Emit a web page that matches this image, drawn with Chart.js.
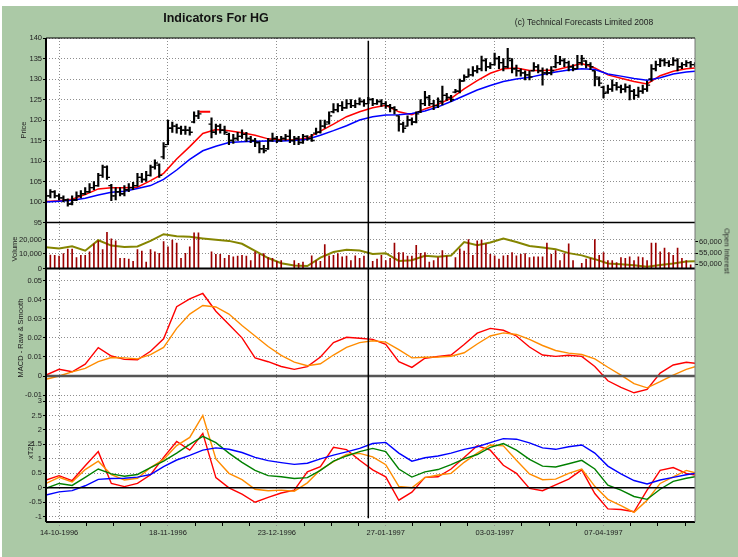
<!DOCTYPE html>
<html>
<head>
<meta charset="utf-8">
<script src="https://cdn.jsdelivr.net/npm/chart.js@4.4.0/dist/chart.umd.min.js"></script>
<style>
  body { margin: 0; background: #fff; }
  #wrap { position: relative; width: 738px; height: 557px; font-family: "Liberation Sans", Arial, sans-serif; }
  #bg { position: absolute; left: 2px; top: 6px; right: 0; bottom: 0; background: #abc9a6; }
  canvas { position: absolute; left: 0; top: 0; }
  .lbl { position: absolute; white-space: nowrap; transform: translate(-50%, -50%); color: #222; }
  .rot { transform: translate(-50%, -50%) rotate(-90deg); font-size: 7.5px; }
</style>
</head>
<body>
<div id="wrap">
  <div id="bg"></div>
  <canvas id="chart" width="738" height="557"></canvas>
  <div class="lbl" style="left:216px;top:18px;font-size:12.5px;font-weight:bold;color:#111">Indicators For HG</div>
  <div class="lbl" style="left:584px;top:22px;font-size:8.5px">(c) Technical Forecasts Limited 2008</div>
  <div class="lbl rot" style="left:23px;top:130px">Price</div>
  <div class="lbl rot" style="left:14px;top:249px">Volume</div>
  <div class="lbl rot" style="left:20px;top:338px">MACD - Raw &amp; Smooth</div>
  <div class="lbl rot" style="left:30px;top:450px">xT2N</div>
  <div class="lbl" style="left:727px;top:251px;font-size:7.5px;transform:translate(-50%,-50%) rotate(90deg)">Open Interest</div>
</div>
<script>
// trading days are numbered 0..149 (14-10-1996 is day 3)
var dateTickDays = [3, 28, 53, 78, 103, 128];
var dateTickLabels = ['14-10-1996', '18-11-1996', '23-12-1996', '27-01-1997', '03-03-1997', '07-04-1997'];
var cursorDay = 74;

var priceTicks = [95, 100, 105, 110, 115, 120, 125, 130, 135, 140];
var volumeTicks = [0, 10000, 20000];
var oiTicks = [50000, 55000, 60000];
var macdTicks = [-0.01, 0, 0.01, 0.02, 0.03, 0.04, 0.05];
var t2nTicks = [-1, -0.5, 0, 0.5, 1, 1.5, 2, 2.5, 3];

// daily bars
var priceOpen = [100.5,101.5,102.5,101.5,101,100.5,99.5,100.5,101.5,102,
  102.5,103.5,104,106.5,108.5,104,101.5,102.5,102,103,
  103.5,104,106,105.5,106.5,108.5,109,111,114,118,
  118.5,118,117.5,117.5,119.5,121,null,null,119,117,
  118.5,117.5,116.5,115,115.5,116,116.5,115.5,115,114.5,
  113,113,115,115.5,115,115.5,116,115,115.5,114.5,
  116,115.5,116.8,117,118.5,119.5,122,122.5,123.5,123,
  124,123.5,124,124.5,124,125,124,124.5,124,123.5,
  123,121,119,118.5,120,119.5,122,124,125.5,124,
  123.5,124.5,126,125.5,126.8,127,129.5,130.5,131,132,
  132.5,134.5,133,133.5,135,134,133,134.5,132.5,132,
  131.5,131,132,133,132,131.5,131.5,133,134,134.5,
  134,133,132.5,134,134.4,133.5,132,130,128,126.8,
  127.5,128.5,128,127.5,128,127,126,127,127.5,130,
  132.5,133.5,134.5,134,133.5,134.5,133,133.5,134,133.5];
var priceHigh = [102.5,103,102.8,102,101.5,100.8,101.5,102.5,102.8,103.5,
  104.5,105,107,109,108.8,104.3,103.5,103.5,104,104.5,
  104.8,107,107,107.5,109,110.3,109.3,114.5,120,119.5,
  119,118.5,118.5,118.3,122,122.3,null,null,120.5,119,
  119,118.5,116.8,116.5,117,117.6,117,116,115.5,114.7,
  113.8,115.5,116.8,116,116,116.5,117.6,116,116,116.5,
  116.2,116.5,118,120,120,122,124,124,124.5,125,
  125,124.8,125.4,125,125.5,125.3,125,125,124.5,123.8,
  123.3,121,119.5,121,120.5,122,125,127,126,124.8,
  125.4,128.3,126.5,126,127.5,130,131,132.5,133,133.3,
  135.6,135,134,136.3,135.5,135,137.5,135,133.4,132.5,
  132,132,134,133.5,132.7,132.5,133,135.8,135.5,135,
  134.4,133.5,135.8,135.8,134.5,134,132,130.5,128.3,128.5,
  129.8,129.2,128.5,128.8,128.5,127.5,128,128.5,129.5,133.5,
  134.4,135,135,134.5,135.2,135,134,134.5,134.3,134];
var priceLow = [100.3,101,101,100.5,100,99,99.3,100.3,101,101.8,
  102.3,103,103.8,106,105.5,100.3,100.5,101.5,101.5,102.5,
  103,103.8,104.8,105,106.3,108,106,110.5,114,117,
  116.8,116.5,116.5,116.3,119.3,120.3,null,null,115.6,116.5,
  116.8,116.5,114,114.3,115,115.5,114.8,114.5,113.5,112,
  112,112.8,114.8,114.5,114.7,115,114.5,114,114,114.3,
  115,114.8,116.5,116.8,118,119,121.7,122,122.3,122.8,
  123,123,123.7,123.3,124,123.5,123.8,123.3,122.8,122,
  121.5,117.3,117,118.5,118.8,119.3,121.8,123.5,123.5,122.5,
  123,123.7,124.8,124.5,126.6,126.6,129.5,130.5,130.7,131.5,
  132,132,132.5,133.4,132.5,132,132.7,131.5,130.7,130.7,
  129.8,129.8,132,131.5,128.5,131,131,132.7,133.5,133,
  132,132,132.5,133.4,132.7,132.3,128.3,128.3,125.4,126.5,
  127,127.3,126.6,126.8,124.9,125,125.5,126.5,127,129.5,
  132,133,133.2,133,133.3,132,132.5,133,132.8,133];
var priceClose = [101.5,102.5,101.5,101,100.5,99.5,100.5,101.5,102,102.5,
  103.5,104,106.5,108.5,106,101.5,102.5,102,103,103.5,
  104,106,105.5,106.5,108.5,109.5,106.5,113.5,118,118.5,
  118,117.5,117.5,117,121,121.5,null,null,117,118.5,
  117.5,117,115,115.5,116,116.5,115.5,115,114.5,113,
  112.5,115,115.5,115,115.5,116,115,115.5,114.5,116,
  115.5,115,117,118.5,119,121,122.5,123.5,123,124,
  123.5,124,124.5,124,125,124,124.5,124,123.5,123,
  122.5,119,118,120,119.5,121.5,124,125.5,124,123.5,
  124.5,126,125.5,125,127,129.5,130.5,131,132,132.5,
  134.5,133,133.5,135,134,133,135,132.5,132,131.5,
  131,130.5,133,132,131.5,131.5,132,134,134.5,134,
  133,132.5,134,135,133.5,133,130.5,129,126.5,127.5,
  128.5,128,127.5,128,127,126,127,127.5,128.5,132.5,
  133.5,134.5,134,133.5,134.5,133,133.5,134,133.5,133.5];
var flagDays = [35.2, 37.7];
var flagPrice = 122;

var volume = [25000,9200,9000,8500,10200,13300,13300,7500,9000,9000,
  11500,17000,19000,13000,25000,20500,19000,7000,7000,6500,
  5000,13000,12000,4500,13000,11500,10500,18500,15000,19500,
  17500,7000,10500,15000,24500,24500,null,null,11500,9800,
  9800,7000,9000,8000,8500,9000,8500,5500,11500,9800,
  10300,7500,7000,5000,5500,null,null,5500,3500,4500,
  null,8800,5500,5000,16500,8800,9000,10300,8000,8500,
  5500,8800,7000,8500,null,5000,6500,9000,5500,7000,
  17500,11000,11000,8500,8500,16000,10500,11000,4500,5500,
  7500,12300,8500,null,7500,13500,12000,20000,9000,19000,
  19500,17000,9800,8800,6500,8800,9000,11000,8800,9800,
  10300,7500,8000,8000,8000,17500,9800,12300,5500,10300,
  17000,5500,null,3500,6500,7000,20000,9000,11000,5500,
  5500,4000,7500,7000,8000,5500,8000,7500,5500,17500,
  17500,11500,14000,11000,9000,14000,7000,5500,2500,null];

// indicator lines, read every third trading day
var lineDays = [0,3,6,9,12,15,18,21,24,27,30,33,36,39,42,45,48,51,54,57,60,63,66,69,72,75,78,81,84,87,90,93,96,99,102,105,108,111,114,117,120,123,126,129,132,135,138,141,144,147,149];
var maFast = [100.1,100.3,100.7,101.8,103.2,103.5,103.5,103.6,105.2,107,110.5,113.5,116.7,117.7,117.4,116.9,116.3,115.4,115.2,115.1,115.6,117.3,119,120.8,122,123,123.6,122,121.3,122.7,123.8,125.3,127.6,129.6,131.4,132.5,132.7,132.1,132.1,132.2,133,133.8,132.7,131,130.2,129.4,128.8,130.8,131.9,132.5,132.7];
var maSlow = [100,100.2,100.4,100.9,101.7,102.4,102.6,103.3,104,105.5,107.8,110.4,112.5,113.6,114.5,114.7,114.8,114.9,114.9,115,115.3,116.3,117.4,118.6,120,120.8,121.2,121.3,121.6,122.2,123.2,124.5,125.9,127.3,128.4,129.4,130,130.4,131.1,131.7,132.2,132.5,132.3,131.2,130.7,130.1,129.7,130.3,131.2,131.7,131.9];
var openInterest = [57600,57100,58100,56100,60800,58400,57800,58000,60500,63500,62600,62300,61600,61000,60500,59200,56000,52800,50500,49500,49200,53000,55500,56500,56200,54600,55000,51500,51800,53800,53400,53900,60000,58600,59800,61600,60000,58200,57500,56800,55000,54000,52300,50400,50000,49600,48900,49700,50400,51300,51400];
var macdRaw = [0.0005,0.0035,0.0022,0.0062,0.0149,0.0105,0.0087,0.0085,0.013,0.0195,0.0364,0.0405,0.0433,0.034,0.027,0.02,0.0095,0.0075,0.005,0.0035,0.0049,0.01,0.0175,0.0203,0.0198,0.0192,0.0166,0.0075,0.0045,0.0093,0.0102,0.011,0.0165,0.0225,0.025,0.024,0.021,0.0152,0.011,0.0103,0.0109,0.0103,0.005,-0.0025,-0.006,-0.0088,-0.007,0.0015,0.0058,0.0072,0.0067];
var macdSmooth = [-0.0017,0,0.0022,0.004,0.0075,0.0097,0.0095,0.009,0.0112,0.015,0.025,0.0325,0.037,0.0362,0.0325,0.0265,0.021,0.0155,0.0108,0.0073,0.0054,0.0064,0.011,0.015,0.0175,0.0185,0.0178,0.0138,0.0095,0.0098,0.01,0.0104,0.0122,0.0168,0.021,0.0226,0.0218,0.0192,0.016,0.0134,0.012,0.0113,0.009,0.0046,0.0005,-0.004,-0.0062,-0.003,0.0005,0.0035,0.0049];
var t2nRed = [0.27,0.42,0.25,0.76,1.25,0.15,0.04,0.15,0.45,1.05,1.6,1.3,1.88,0.35,0,-0.22,-0.5,-0.33,-0.18,-0.08,0.55,0.73,1.4,1.32,0.95,0.62,0.38,-0.43,-0.15,0.36,0.38,0.65,1.05,1.45,1.3,0.78,0.5,-0.02,-0.1,0.1,0.3,0.62,-0.2,-0.73,-0.75,-0.83,-0.08,0.6,0.7,0.5,0.44];
var t2nOrange = [0.15,0.36,0.2,0.63,0.92,0.45,0.27,0.33,0.7,0.98,1.46,1.74,2.5,1.0,0.5,0.28,-0.05,-0.1,-0.08,-0.12,0.17,0.62,0.9,1.15,1.19,1.07,0.8,0.05,0,0.35,0.44,0.5,0.88,1.2,1.48,1.45,0.95,0.48,0.28,0.3,0.5,0.65,0.05,-0.4,-0.62,-0.85,-0.43,0.15,0.38,0.6,0.52];
var t2nGreen = [-0.02,0.15,0.08,0.36,0.65,0.48,0.4,0.46,0.7,0.92,1.2,1.5,1.78,1.56,1.2,0.88,0.6,0.42,0.38,0.32,0.35,0.6,0.92,1.1,1.25,1.36,1.25,0.65,0.37,0.55,0.63,0.8,1.0,1.15,1.4,1.53,1.3,0.98,0.75,0.72,0.83,0.95,0.65,0.09,-0.08,-0.3,-0.4,-0.05,0.22,0.33,0.38];
var t2nBlue = [-0.25,-0.14,-0.1,0.07,0.29,0.32,0.33,0.37,0.46,0.73,0.96,1.12,1.3,1.38,1.33,1.22,1.05,0.94,0.87,0.81,0.85,1.0,1.13,1.24,1.36,1.53,1.57,1.2,0.92,1.04,1.1,1.2,1.33,1.42,1.56,1.7,1.68,1.55,1.38,1.33,1.42,1.48,1.2,0.75,0.48,0.25,0.13,0.27,0.36,0.45,0.5];

var ink = '#000';
var gridGray = '#8e8e8e';
var tickFont = { family: '"Liberation Sans", Arial, sans-serif', size: 7.5 };
var minorStep = 6.25;

var xTicks = [];
dateTickDays.forEach(function(d){
  for (var k = 0; k < 4; k++) {
    if (d + k * minorStep <= 149) xTicks.push(d + k * minorStep);
  }
});
function isMajor(v){ return dateTickDays.indexOf(v) >= 0; }

function onLineDays(values){
  return values.map(function(v, k){ return { x: lineDays[k], y: v }; });
}
function daily(values, shift){
  var out = [];
  values.forEach(function(v, i){ if (v !== null) out.push({ x: i + (shift || 0), y: v }); });
  return out;
}
function lineSet(values, axis, color, width){
  return { type: 'line', data: onLineDays(values), yAxisID: axis, borderColor: color,
    borderWidth: width || 1.4, pointRadius: 0, tension: 0 };
}
function tickSet(values, shift){
  return { type: 'line', data: daily(values, shift), yAxisID: 'yPrice', showLine: false,
    pointStyle: 'line', pointRadius: 1.5, pointBorderWidth: 1.4, pointBorderColor: ink, borderColor: ink };
}

function leftAxis(weight, stackWeight, min, max, tickValues, fmt){
  return {
    type: 'linear', position: 'left', stack: 'panels', weight: weight, stackWeight: stackWeight,
    min: min, max: max,
    afterBuildTicks: function(s){ s.ticks = tickValues.map(function(v){ return { value: v }; }); },
    afterFit: function(s){ s.width = 44; },
    border: { display: false, dash: [1, 2] },
    grid: { color: gridGray, lineWidth: 1, tickLength: 3, tickColor: ink },
    ticks: { font: tickFont, color: '#222', padding: 1, autoSkip: false, callback: fmt }
  };
}

var panelFrame = {
  id: 'panelFrame',
  beforeDraw: function(chart){
    var a = chart.chartArea, ctx = chart.ctx;
    ctx.save();
    ctx.fillStyle = '#fff';
    ctx.fillRect(a.left, a.top, a.right - a.left, a.bottom - a.top);
    ctx.restore();
  },
  afterDatasetsDraw: function(chart){
    var a = chart.chartArea, ctx = chart.ctx, s = chart.scales;
    function seg(x1, y1, x2, y2, color, w){
      ctx.beginPath(); ctx.strokeStyle = color; ctx.lineWidth = w;
      ctx.moveTo(x1, y1); ctx.lineTo(x2, y2); ctx.stroke();
    }
    ctx.save();
    ctx.setLineDash([]);
    seg(a.left, s.yVol.top, a.right, s.yVol.top, ink, 1.5);
    var v0 = s.yVol.getPixelForValue(0);
    seg(a.left, v0, a.right, v0, ink, 2);
    var m0 = s.yMacd.getPixelForValue(0);
    seg(a.left, m0, a.right, m0, '#555', 2.5);
    var t0 = s.yX.getPixelForValue(0);
    seg(a.left, t0, a.right, t0, ink, 1.5);
    seg(a.left, a.top, a.right, a.top, ink, 1);
    seg(a.left, a.bottom, a.right, a.bottom, ink, 2);
    seg(a.left, a.top, a.left, a.bottom, ink, 2);
    seg(a.right, a.top, a.right, a.bottom, '#777', 1);
    var cx = s.x.getPixelForValue(cursorDay);
    seg(cx, s.yPrice.getPixelForValue(139.3), cx, s.yX.getPixelForValue(-1.05), ink, 1.5);
    ctx.restore();
  }
};

var hiLo = [];
priceHigh.forEach(function(h, i){ if (h !== null) hiLo.push({ x: i, y: [priceLow[i], h] }); });

new Chart(document.getElementById('chart'), {
  type: 'line',
  data: {
    datasets: [
      { type: 'bar', data: hiLo, yAxisID: 'yPrice', backgroundColor: ink, barThickness: 1.5, grouped: false },
      tickSet(priceOpen, -0.35),
      tickSet(priceClose, 0.35),
      { type: 'line', data: flagDays.map(function(d){ return { x: d, y: flagPrice }; }), yAxisID: 'yPrice',
        borderColor: '#ff0000', borderWidth: 2, pointRadius: 0 },
      lineSet(maSlow, 'yPrice', '#0000ff', 1.5),
      lineSet(maFast, 'yPrice', '#ff0000', 1.5),
      { type: 'bar', data: daily(volume), yAxisID: 'yVol', backgroundColor: '#9b0000', barThickness: 1, grouped: false },
      lineSet(openInterest, 'yOI', '#858500', 2),
      lineSet(macdSmooth, 'yMacd', '#ff8c00', 1.4),
      lineSet(macdRaw, 'yMacd', '#ff0000', 1.4),
      lineSet(t2nBlue, 'yX', '#0000ff', 1.4),
      lineSet(t2nGreen, 'yX', '#008000', 1.4),
      lineSet(t2nOrange, 'yX', '#ff8c00', 1.4),
      lineSet(t2nRed, 'yX', '#ff0000', 1.4)
    ]
  },
  options: {
    responsive: false,
    devicePixelRatio: 1,
    animation: false,
    events: [],
    layout: { padding: { left: 2, top: 38, right: 0, bottom: 0 } },
    plugins: { legend: { display: false }, tooltip: { enabled: false } },
    scales: {
      x: {
        type: 'linear', position: 'bottom', min: 0, max: 149, offset: false,
        afterBuildTicks: function(s){ s.ticks = xTicks.map(function(v){ return { value: v }; }); },
        afterFit: function(s){ s.height = 35; },
        border: { display: false, dash: [1, 2] },
        grid: {
          offset: false, tickLength: 4,
          color: function(c){ return c.tick && isMajor(c.tick.value) ? gridGray : 'rgba(0,0,0,0)'; },
          tickColor: function(c){ return c.tick && isMajor(c.tick.value) ? gridGray : ink; },
          tickBorderDash: function(c){ return c.tick && isMajor(c.tick.value) ? [1, 2] : []; }
        },
        ticks: {
          autoSkip: false, maxRotation: 0, font: tickFont, color: '#222', padding: 2,
          callback: function(v){ var k = dateTickDays.indexOf(v); return k >= 0 ? dateTickLabels[k] : ''; }
        }
      },
      yX: leftAxis(1, 124, -1.183, 3.104, t2nTicks, function(v){ return String(+v.toFixed(2)); }),
      yMacd: leftAxis(2, 129.5, -0.01154, 0.0564, macdTicks, function(v){ return String(+v.toFixed(3)); }),
      yVol: leftAxis(3, 46, 0, 31700, volumeTicks, function(v){ return v.toLocaleString('en-US'); }),
      yPrice: leftAxis(4, 184.5, 95, 140, priceTicks, function(v){ return String(v); }),
      yOI: {
        type: 'linear', position: 'right', min: -65550, max: 151470,
        afterBuildTicks: function(s){ s.ticks = oiTicks.map(function(v){ return { value: v }; }); },
        afterFit: function(s){ s.width = 43; },
        border: { display: false },
        grid: { drawOnChartArea: false, tickLength: 3, color: ink },
        ticks: { font: tickFont, color: '#222', padding: 1, autoSkip: false,
          callback: function(v){ return v.toLocaleString('en-US'); } }
      }
    }
  },
  plugins: [panelFrame]
});
</script>
</body>
</html>
